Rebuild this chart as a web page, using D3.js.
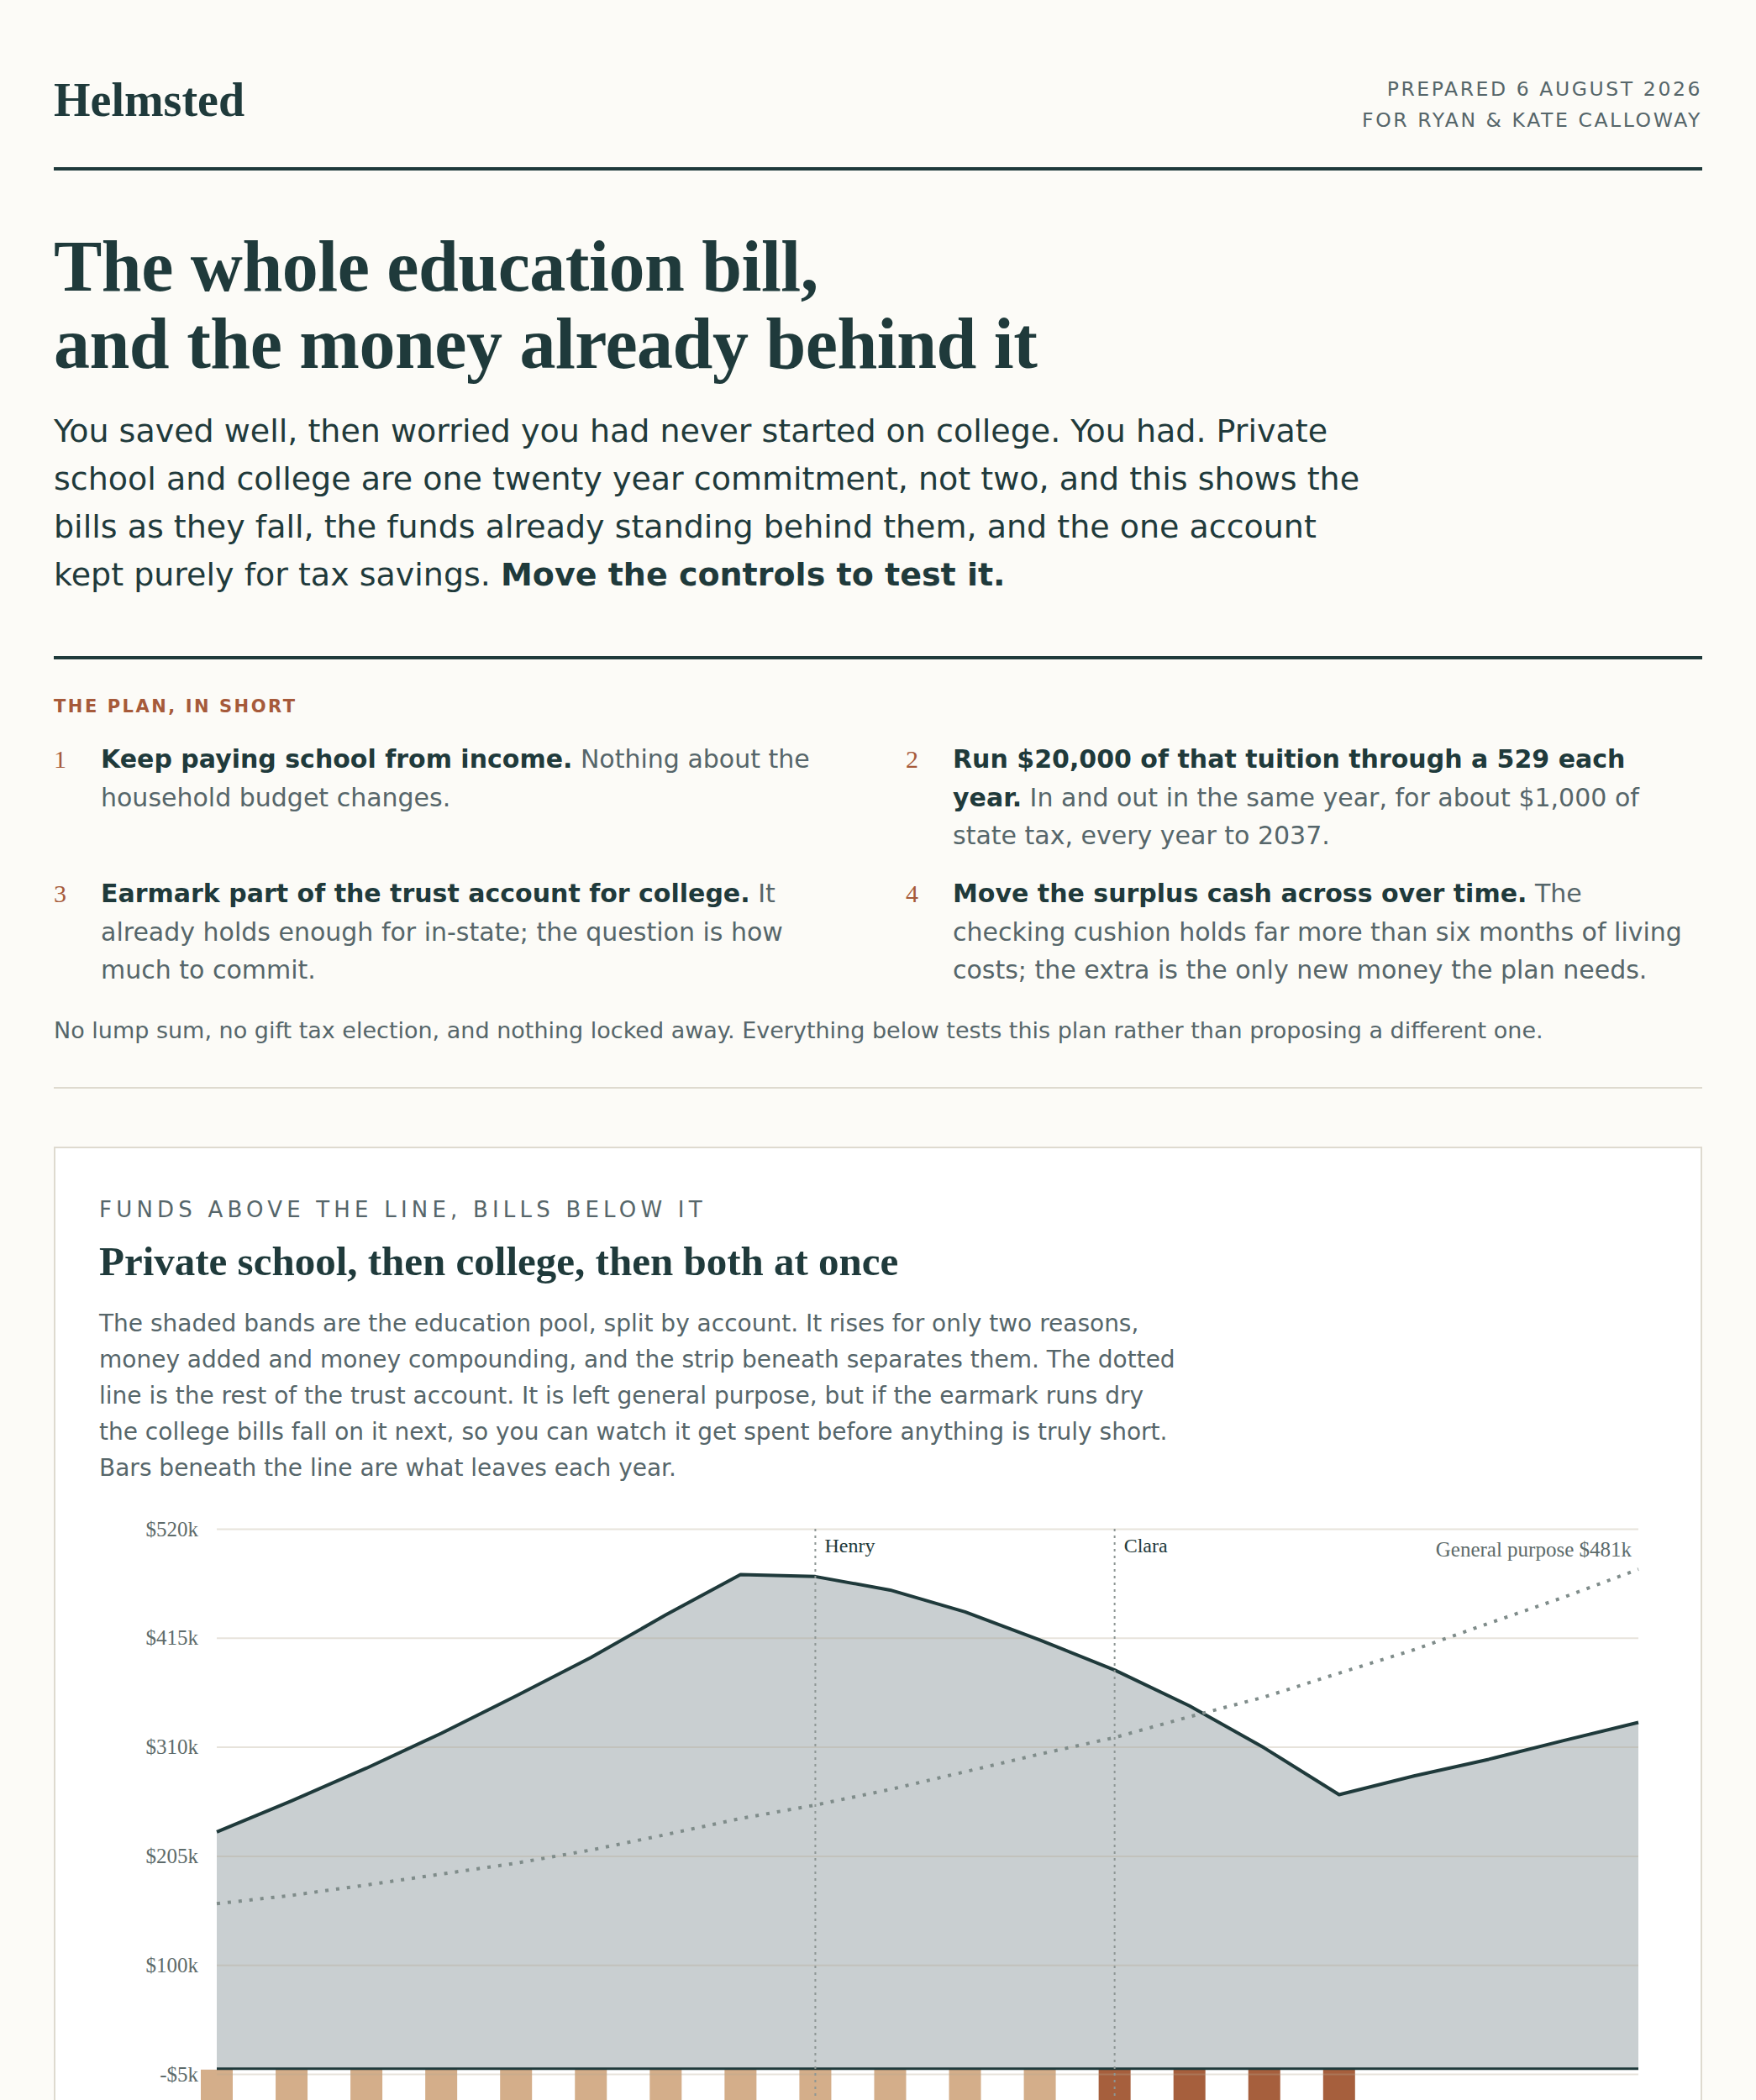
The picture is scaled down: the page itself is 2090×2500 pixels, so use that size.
<!DOCTYPE html>
<html>
<head>
<meta charset="utf-8">
<script src="https://cdn.jsdelivr.net/npm/d3@7"></script>
<style>
  html, body { margin: 0; padding: 0; }
  body {
    background: #fcfbf7;
    color: #1f3a3b;
    font-family: "DejaVu Sans", sans-serif;
    width: 2090px;
    height: 2500px;
    overflow: hidden;
  }
  .page { padding: 0 64px; }
  header {
    position: relative;
    height: 199px;
    border-bottom: 4px solid #1f3a3b;
  }
  .brand {
    position: absolute; left: 0; top: 87px;
    font: bold 56px/1.15 "Liberation Serif", serif;
  }
  .prepared {
    position: absolute; right: 0; top: 88px;
    font-size: 23.5px; line-height: 36.5px;
    letter-spacing: 0.11em; text-align: right;
    color: #56666a;
  }
  h1 {
    margin: 68px 0 0 0;
    font: bold 86px/92px "Liberation Serif", serif;
    letter-spacing: -0.5px;
  }
  .intro {
    margin: 30px 0 0 0;
    max-width: 1570px;
    font-size: 38px; line-height: 57px;
  }
  .intro b { font-weight: bold; }
  .plan {
    margin-top: 68px;
    border-top: 4px solid #1f3a3b;
  }
  .eyebrow-rust {
    margin-top: 41px;
    font-size: 21px; line-height: 30px; font-weight: bold;
    letter-spacing: 0.12em; color: #a65a3a;
  }
  .items {
    margin-top: 25px;
    display: grid;
    grid-template-columns: 1fr 1fr;
    column-gap: 66px;
    row-gap: 23.5px;
  }
  .item {
    position: relative;
    padding-left: 56px;
    font-size: 30px; line-height: 45.5px;
    color: #56666a;
  }
  .item .num {
    position: absolute; left: 0; top: 0;
    font-family: "Liberation Serif", serif;
    color: #a65a3a;
  }
  .item b { color: #1f3a3b; }
  .foot {
    margin-top: 29px;
    font-size: 27px; line-height: 40px;
    color: #56666a;
  }
  .thin {
    margin-top: 47.5px;
    border-top: 2px solid #dedacf;
  }
  .card {
    margin-top: 69px;
    background: #ffffff;
    border: 2px solid #dedacf;
    padding: 56px 52px 0 52px;
    height: 1400px;
  }
  .card .kicker {
    font-size: 26px; line-height: 34px;
    letter-spacing: 0.2em; color: #56666a;
  }
  .card h2 {
    margin: 17px 0 0 0;
    font: bold 49px/56px "Liberation Serif", serif;
  }
  .card .desc {
    margin: 24px 0 0 0;
    max-width: 1286px;
    font-size: 28px; line-height: 43px;
    color: #56666a;
  }
  #chart { display: block; margin-top: 17px; }
</style>
</head>
<body>
<div class="page">
  <header>
    <div class="brand">Helmsted</div>
    <div class="prepared">PREPARED 6 AUGUST 2026<br>FOR RYAN &amp; KATE CALLOWAY</div>
  </header>

  <h1>The whole education bill,<br>and the money already behind it</h1>
  <p class="intro">You saved well, then worried you had never started on college. You had. Private school and college are one twenty year commitment, not two, and this shows the bills as they fall, the funds already standing behind them, and the one account kept purely for tax savings. <b>Move the controls to test it.</b></p>

  <div class="plan">
    <div class="eyebrow-rust">THE PLAN, IN SHORT</div>
    <div class="items">
      <div class="item"><span class="num">1</span><b>Keep paying school from income.</b> Nothing about the household budget changes.</div>
      <div class="item"><span class="num">2</span><b>Run $20,000 of that tuition through a 529 each year.</b> In and out in the same year, for about $1,000 of state tax, every year to 2037.</div>
      <div class="item"><span class="num">3</span><b>Earmark part of the trust account for college.</b> It already holds enough for in-state; the question is how much to commit.</div>
      <div class="item"><span class="num">4</span><b>Move the surplus cash across over time.</b> The checking cushion holds far more than six months of living costs; the extra is the only new money the plan needs.</div>
    </div>
    <div class="foot">No lump sum, no gift tax election, and nothing locked away. Everything below tests this plan rather than proposing a different one.</div>
  </div>

  <div class="thin"></div>

  <div class="card">
    <div class="kicker">FUNDS ABOVE THE LINE, BILLS BELOW IT</div>
    <h2>Private school, then college, then both at once</h2>
    <p class="desc">The shaded bands are the education pool, split by account. It rises for only two reasons, money added and money compounding, and the strip beneath separates them. The dotted line is the rest of the trust account. It is left general purpose, but if the earmark runs dry the college bills fall on it next, so you can watch it get spent before anything is truly short. Bars beneath the line are what leaves each year.</p>
    <svg id="chart"></svg>
  </div>
</div>

<script>
// years on the x axis
const years = [2026, 2027, 2028, 2029, 2030, 2031, 2032, 2033, 2034, 2035,
               2036, 2037, 2038, 2039, 2040, 2041, 2042, 2043, 2044, 2045];
// education pool, $k
const poolValues = [228, 258, 289.5, 323, 359, 396, 437, 476, 474, 461,
                    440, 413, 384, 349.5, 309, 264, 282, 298, 316, 333.5];
// rest of the trust account (general purpose), $k
const generalValues = [159, 167, 177, 187.5, 198, 210.6, 225.5, 241, 254, 269,
                       286, 303, 319, 339, 358, 381, 403.5, 429, 454, 481];
// bills leaving each year, $k
const schoolBills = [34, 36, 37, 39, 40, 42, 44, 45, 47, 49, 51, 53, 0, 0, 0, 0, 0, 0, 0, 0];
const collegeBills = [0, 0, 0, 0, 0, 0, 0, 0, 62, 65, 67, 70, 74, 77, 80, 83, 0, 0, 0, 0];
const yTicks = [-5, 100, 205, 310, 415, 520];
const markers = [{ year: 2034, label: "Henry" }, { year: 2038, label: "Clara" }];

const width = 1850, height = 760;
const margin = { top: 34, right: 18, left: 140 };

const svg = d3.select('#chart')
  .attr('width', width)
  .attr('height', height);

const x = d3.scalePoint()
  .domain(years)
  .range([margin.left, width - margin.right]);

const y = d3.scaleLinear()
  .domain([-5, 520])
  .range([margin.top + 649, margin.top]);

const data = years.map((yr, i) => ({
  year: yr,
  pool: poolValues[i],
  general: generalValues[i],
  school: schoolBills[i],
  college: collegeBills[i]
}));

// bills, stacked downward from zero
const bills = svg.append('g');
data.forEach(d => {
  const segs = [
    { v0: 0, v1: -d.school, color: '#d4ae8a' },
    { v0: -d.school, v1: -d.school - d.college, color: '#a65f3d' }
  ].filter(s => s.v0 !== s.v1);
  bills.selectAll(null)
    .data(segs)
    .join('rect')
    .attr('x', x(d.year) - 19)
    .attr('width', 38)
    .attr('y', s => y(s.v0) + 1)
    .attr('height', s => y(s.v1) - y(s.v0))
    .attr('fill', s => s.color);
});

// education pool area
const area = d3.area()
  .x(d => x(d.year))
  .y0(y(0))
  .y1(d => y(d.pool));

svg.append('path')
  .datum(data)
  .attr('d', area)
  .attr('fill', '#c9cfd1');

// gridlines drawn over the area so they read through it
const grid = svg.append('g')
  .attr('transform', `translate(${margin.left},0)`)
  .call(d3.axisLeft(y)
    .tickValues(yTicks)
    .tickSize(-(width - margin.left - margin.right))
    .tickFormat(''));
grid.select('.domain').remove();
grid.selectAll('line')
  .attr('stroke', '#b3a88e')
  .attr('stroke-opacity', 0.32)
  .attr('stroke-width', 2);

// y labels
const yAxis = svg.append('g')
  .attr('transform', `translate(${margin.left - 22},0)`)
  .call(d3.axisLeft(y)
    .tickValues(yTicks)
    .tickSize(0)
    .tickPadding(0)
    .tickFormat(d => (d < 0 ? '-$' + (-d) : '$' + d) + 'k'));
yAxis.select('.domain').remove();
yAxis.selectAll('text')
  .attr('font-family', '"Liberation Serif", serif')
  .attr('font-size', 25)
  .attr('fill', '#5d6b6b');

// zero line
svg.append('line')
  .attr('x1', margin.left)
  .attr('x2', width - margin.right)
  .attr('y1', y(0))
  .attr('y2', y(0))
  .attr('stroke', '#1f3a3b')
  .attr('stroke-width', 3);

// pool line
svg.append('path')
  .datum(data)
  .attr('d', d3.line().x(d => x(d.year)).y(d => y(d.pool)))
  .attr('fill', 'none')
  .attr('stroke', '#1f3a3b')
  .attr('stroke-width', 4)
  .attr('stroke-linejoin', 'round');

// general purpose, dotted
svg.append('path')
  .datum(data)
  .attr('d', d3.line().x(d => x(d.year)).y(d => y(d.general)))
  .attr('fill', 'none')
  .attr('stroke', '#7f8c8a')
  .attr('stroke-width', 4)
  .attr('stroke-dasharray', '4 9');

svg.append('text')
  .attr('x', width - margin.right - 8)
  .attr('y', y(520) + 33)
  .attr('text-anchor', 'end')
  .attr('font-family', '"Liberation Serif", serif')
  .attr('font-size', 25)
  .attr('fill', '#5d6b6b')
  .text(`General purpose $${generalValues[generalValues.length - 1]}k`);

// child markers
const mk = svg.append('g')
  .selectAll('g')
  .data(markers)
  .join('g')
  .attr('transform', d => `translate(${x(d.year)},0)`);

mk.append('line')
  .attr('y1', y(520))
  .attr('y2', height)
  .attr('stroke', '#8d9694')
  .attr('stroke-width', 2)
  .attr('stroke-dasharray', '3 5');

mk.append('text')
  .attr('x', 11)
  .attr('y', y(520) + 28)
  .attr('font-family', '"Liberation Serif", serif')
  .attr('font-size', 24)
  .attr('fill', '#1f3a3b')
  .text(d => d.label);
</script>
</body>
</html>
